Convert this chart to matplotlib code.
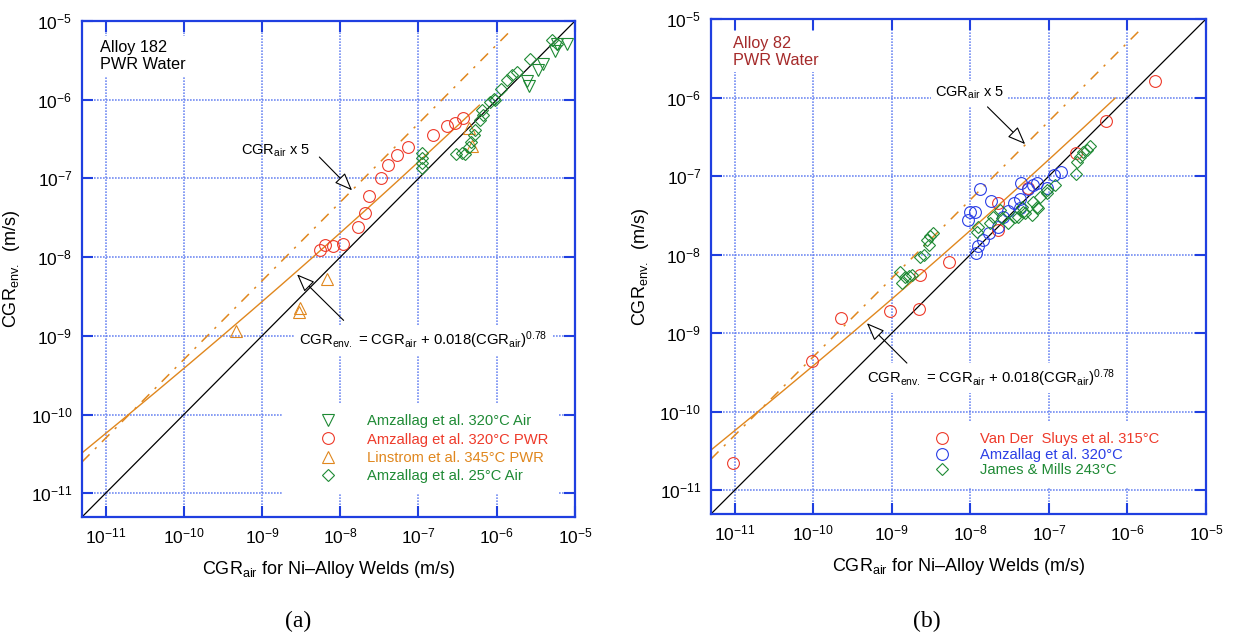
import numpy as np
import matplotlib
matplotlib.use("Agg")
import matplotlib.pyplot as plt
from matplotlib.ticker import LogFormatterSciNotation, NullLocator

plt.rcParams['font.family'] = ['Liberation Sans', 'DejaVu Sans']
plt.rcParams['mathtext.fontset'] = 'custom'
plt.rcParams['mathtext.rm'] = 'Liberation Sans'
plt.rcParams['mathtext.it'] = 'Liberation Sans:italic'
plt.rcParams['mathtext.bf'] = 'Liberation Sans:bold'
plt.rcParams['mathtext.sf'] = 'Liberation Sans'
plt.rcParams['axes.unicode_minus'] = False

# ---------------- data: panel (a) Alloy 182 ----------------
a_air320_x = [2.43e-6, 2.55e-6, 3.42e-6, 3.96e-6, 5.58e-6, 5.87e-6, 7.89e-6]
a_air320_y = [1.71e-6, 1.48e-6, 2.37e-6, 2.88e-6, 4.12e-6, 5.16e-6, 5.16e-6]

a_pwr320_x = [5.5e-9, 6.3e-9, 8.0e-9, 1.07e-8, 1.67e-8, 2.09e-8, 2.36e-8, 3.28e-8,
              4.11e-8, 5.31e-8, 7.26e-8, 1.53e-7, 2.33e-7, 2.95e-7, 3.70e-7]
a_pwr320_y = [1.24e-8, 1.44e-8, 1.40e-8, 1.49e-8, 2.41e-8, 3.67e-8, 5.93e-8, 1.01e-7,
              1.50e-7, 1.97e-7, 2.51e-7, 3.53e-7, 4.59e-7, 5.06e-7, 5.81e-7]

a_lin345_x = [4.61e-10, 3.09e-9, 3.01e-9, 6.78e-9, 4.82e-7, 4.46e-7]
a_lin345_y = [1.17e-9, 2.28e-9, 2.00e-9, 5.33e-9, 2.56e-7, 4.34e-7]

a_air25_x = [1.11e-7, 1.11e-7, 1.11e-7, 1.11e-7, 3.04e-7, 3.60e-7, 3.96e-7, 4.37e-7,
             4.68e-7, 5.06e-7, 5.31e-7, 6.15e-7, 6.59e-7, 6.47e-7, 8.26e-7, 9.10e-7,
             9.57e-7, 1.13e-6, 1.35e-6, 1.56e-6, 1.81e-6, 2.68e-6, 5.07e-6, 5.87e-6]
a_air25_y = [2.08e-7, 1.80e-7, 1.56e-7, 1.34e-7, 2.07e-7, 2.13e-7, 2.02e-7, 2.51e-7,
             2.90e-7, 3.53e-7, 4.08e-7, 5.47e-7, 6.34e-7, 7.33e-7, 9.35e-7, 1.03e-6,
             9.82e-7, 1.38e-6, 1.77e-6, 2.04e-6, 2.25e-6, 3.33e-6, 5.69e-6, 5.16e-6]

# ---------------- data: panel (b) Alloy 82 ----------------
b_vds_x = [2.25e-6, 5.31e-7, 2.21e-7, 5.35e-8, 2.24e-8, 2.24e-8, 5.28e-9, 2.26e-9,
           9.57e-10, 2.24e-9, 2.26e-10, 9.66e-11, 9.44e-12]
b_vds_y = [1.63e-6, 5.05e-7, 1.98e-7, 7.10e-8, 4.50e-8, 2.06e-8, 8.15e-9, 5.52e-9,
           1.93e-9, 2.02e-9, 1.56e-9, 4.37e-10, 2.21e-11]

b_amz_x = [1.34e-8, 1.00e-8, 9.48e-9, 1.15e-8, 1.83e-8, 1.19e-8, 1.27e-8, 1.47e-8,
           1.75e-8, 2.22e-8, 2.64e-8, 3.06e-8, 3.55e-8, 4.32e-8, 4.41e-8, 5.50e-8,
           6.37e-8, 7.16e-8, 9.44e-8, 1.15e-7, 1.43e-7, 4.32e-8]
b_amz_y = [6.78e-8, 3.52e-8, 2.76e-8, 3.52e-8, 4.85e-8, 1.06e-8, 1.29e-8, 1.54e-8,
           1.87e-8, 2.27e-8, 3.04e-8, 3.62e-8, 4.58e-8, 5.06e-8, 8.22e-8, 6.78e-8,
           7.69e-8, 8.22e-8, 6.98e-8, 1.03e-7, 1.14e-7, 3.89e-8]

b_jm_x = [1.26e-9, 1.35e-9, 1.49e-9, 1.64e-9, 1.81e-9, 2.31e-9, 2.54e-9, 2.81e-9,
          2.94e-9, 3.03e-9, 3.40e-9, 1.21e-8, 1.27e-8, 1.79e-8, 1.97e-8, 2.40e-8,
          2.52e-8, 3.06e-8, 3.72e-8, 4.10e-8, 4.53e-8, 4.99e-8, 6.08e-8, 6.37e-8,
          7.38e-8, 7.74e-8, 9.44e-8, 1.20e-7, 2.22e-7, 2.27e-7, 2.50e-7, 2.75e-7,
          3.04e-7, 3.35e-7, 4.74e-8, 7.03e-8, 9.44e-8]
b_jm_y = [6.08e-9, 4.34e-9, 5.25e-9, 5.36e-9, 5.52e-9, 9.44e-9, 9.91e-9, 1.54e-8,
          1.33e-8, 1.73e-8, 1.87e-8, 1.96e-8, 2.27e-8, 2.51e-8, 3.04e-8, 3.70e-8,
          2.90e-8, 2.51e-8, 3.04e-8, 3.04e-8, 4.07e-8, 3.36e-8, 3.19e-8, 4.71e-8,
          3.89e-8, 5.46e-8, 6.64e-8, 7.69e-8, 1.06e-7, 1.52e-7, 1.76e-7, 2.04e-7,
          2.14e-7, 2.43e-7, 3.52e-8, 4.07e-8, 6.03e-8]

# model parameters (from chart equation)
coef = 0.018
expo = 0.78
factor5 = 5.0

xlim = (5e-12, 1e-5)
ylim = (5e-12, 1e-5)
tick_vals = [1e-11, 1e-10, 1e-9, 1e-8, 1e-7, 1e-6, 1e-5]

GREEN = '#1f8a35'
RED = '#ee3a2a'
ORANGE = '#e0871e'
BLUE = '#2a3ee6'
FRAME = '#1f3fe0'
GRID = '#5a78f0'
DARKRED = '#a52a2a'

fig = plt.figure(figsize=(12.33, 6.37), dpi=100)
axA = fig.add_axes([0.0665, 0.1884, 0.3998, 0.7786])
axB = fig.add_axes([0.5766, 0.1931, 0.4015, 0.7771])


def style_axes(ax):
    ax.set_xscale('log')
    ax.set_yscale('log')
    ax.set_xlim(*xlim)
    ax.set_ylim(*ylim)
    ax.set_xticks(tick_vals)
    ax.set_yticks(tick_vals)
    ax.xaxis.set_major_formatter(LogFormatterSciNotation())
    ax.yaxis.set_major_formatter(LogFormatterSciNotation())
    ax.xaxis.set_minor_locator(NullLocator())
    ax.yaxis.set_minor_locator(NullLocator())
    ax.set_axisbelow(True)
    ax.grid(True, which='major', color=GRID, linestyle=(0, (1, 0.8)), linewidth=1.2, alpha=0.85)
    for s in ax.spines.values():
        s.set_color(FRAME)
        s.set_linewidth(1.6)
    ax.tick_params(which='major', direction='in', length=8, width=1.5, color=FRAME,
                   top=True, right=True, pad=7, labelsize=12.5)
    ax.set_xlabel('CGR$_{\\mathrm{air}}$ for Ni\u2013Alloy Welds (m/s)', fontsize=13, labelpad=9)
    ax.set_ylabel('CGR$_{\\mathrm{env.}}$  (m/s)', fontsize=13, labelpad=6)


def model_lines(ax, xmax_model):
    xs = np.logspace(np.log10(xlim[0]), np.log10(xlim[1]), 200)
    ax.plot(xs, xs, color='black', lw=0.9, zorder=2)
    xm = np.logspace(np.log10(xlim[0]), np.log10(xmax_model), 200)
    ax.plot(xm, xm + coef * xm ** expo, color=ORANGE, lw=1.0, zorder=2)
    x5 = np.logspace(np.log10(xlim[0]), np.log10(1.6e-6), 200)
    ax.plot(x5, factor5 * x5, color=ORANGE, lw=1.1, linestyle=(0, (7, 5, 1.5, 5)), zorder=2)


arrow_props = dict(arrowstyle='-|>,head_length=0.55,head_width=0.22', fc='white', ec='black',
                   lw=0.8, shrinkA=0, shrinkB=0, mutation_scale=20)
box = dict(facecolor='white', edgecolor='none', pad=3)

# ---------------- panel (a) ----------------
style_axes(axA)
model_lines(axA, 6e-7)
mk = dict(linestyle='none', markerfacecolor='none', markeredgewidth=0.8, zorder=3)
axA.plot(a_air320_x, a_air320_y, marker='v', ms=8.5, color=GREEN, label='Amzallag et al. 320\u00b0C Air', **mk)
axA.plot(a_pwr320_x, a_pwr320_y, marker='o', ms=8.5, color=RED, label='Amzallag et al. 320\u00b0C PWR', **mk)
axA.plot(a_lin345_x, a_lin345_y, marker='^', ms=8.5, color=ORANGE, label='Linstrom et al. 345\u00b0C PWR', **mk)
axA.plot(a_air25_x, a_air25_y, marker='D', ms=6.0, color=GREEN, label='Amzallag et al. 25\u00b0C Air', **mk)

legA = axA.legend(loc='lower left', bbox_to_anchor=(0.405, 0.047), borderaxespad=0,
                  fontsize=10.6, frameon=True, facecolor='white', edgecolor='none',
                  fancybox=False, framealpha=1, handlelength=4.9, handletextpad=0.18,
                  labelspacing=0.3, borderpad=0.7)
for t, c in zip(legA.get_texts(), [GREEN, RED, ORANGE, GREEN]):
    t.set_color(c)

axA.text(0.0365, 0.962, 'Alloy 182\nPWR Water', transform=axA.transAxes, ha='left', va='top',
         fontsize=11.7, linespacing=1.15, color='black', bbox=box, zorder=4)

axA.text(10 ** -8.829, 10 ** -6.70, 'CGR$_{\\mathrm{air}}$ x 5', ha='center', va='baseline',
         fontsize=10.5, zorder=4)
axA.annotate('', xy=(10 ** -7.849, 10 ** -7.151), xytext=(10 ** -8.267, 10 ** -6.728),
             arrowprops=arrow_props, zorder=4)

axA.text(10 ** -6.939, 10 ** -9.121,
         'CGR$_{\\mathrm{env.}}$ = CGR$_{\\mathrm{air}}$ + 0.018(CGR$_{\\mathrm{air}}$)$^{0.78}$',
         ha='center', va='baseline', fontsize=10.7, bbox=box, zorder=4)
axA.annotate('', xy=(10 ** -8.552, 10 ** -8.219), xytext=(10 ** -7.957, 10 ** -8.803),
             arrowprops=arrow_props, zorder=4)

# ---------------- panel (b) ----------------
style_axes(axB)
model_lines(axB, 7e-7)
axB.plot(b_vds_x, b_vds_y, marker='o', ms=8.5, color=RED, label='Van Der  Sluys et al. 315\u00b0C', **mk)
axB.plot(b_amz_x, b_amz_y, marker='o', ms=8.5, color=BLUE, label='Amzallag et al. 320\u00b0C', **mk)
axB.plot(b_jm_x, b_jm_y, marker='D', ms=6.0, color=GREEN, label='James & Mills 243\u00b0C', **mk)

legB = axB.legend(loc='lower left', bbox_to_anchor=(0.432, 0.0535), borderaxespad=0,
                  fontsize=10.6, frameon=True, facecolor='white', edgecolor='none',
                  fancybox=False, framealpha=1, handlelength=0.9, handletextpad=2.13,
                  labelspacing=0.1, borderpad=0.7)
for t, c in zip(legB.get_texts(), [RED, BLUE, GREEN]):
    t.set_color(c)

axB.text(0.044, 0.966, 'Alloy 82\nPWR Water', transform=axB.transAxes, ha='left', va='top',
         fontsize=11.7, linespacing=1.15, color=DARKRED, bbox=box, zorder=4)

axB.text(10 ** -8.009, 10 ** -5.992, 'CGR$_{\\mathrm{air}}$ x 5', ha='center', va='baseline',
         fontsize=10.5, bbox=box, zorder=4)
axB.annotate('', xy=(10 ** -7.302, 10 ** -6.593), xytext=(10 ** -7.781, 10 ** -6.119),
             arrowprops=arrow_props, zorder=4)

axB.text(10 ** -7.732, 10 ** -9.634,
         'CGR$_{\\mathrm{env.}}$ = CGR$_{\\mathrm{air}}$ + 0.018(CGR$_{\\mathrm{air}}$)$^{0.78}$',
         ha='center', va='baseline', fontsize=10.7, bbox=box, zorder=4)
axB.annotate('', xy=(10 ** -9.316, 10 ** -8.872), xytext=(10 ** -8.807, 10 ** -9.380),
             arrowprops=arrow_props, zorder=4)

fig.text(0.2419, 0.024, '(a)', family=['Liberation Serif'], fontsize=17, ha='center', va='center')
fig.text(0.7516, 0.025, '(b)', family=['Liberation Serif'], fontsize=17, ha='center', va='center')

fig.savefig('out.png', dpi=100)
